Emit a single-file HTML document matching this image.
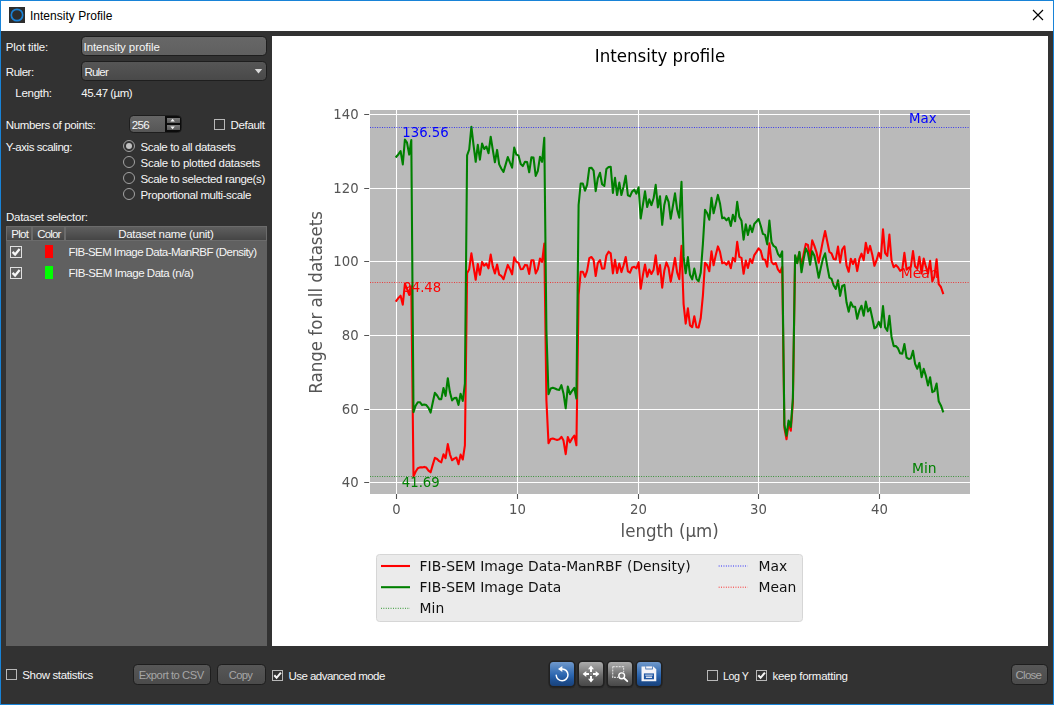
<!DOCTYPE html>
<html lang="en">
<head>
<meta charset="utf-8">
<title>Intensity Profile</title>
<style>
html,body{margin:0;padding:0;}
body{width:1054px;height:705px;overflow:hidden;background:#323232;position:relative;font-family:"Liberation Sans",sans-serif;}
#win{position:absolute;left:0;top:0;width:1052px;height:703px;border:1px solid #1883d7;background:#323232;}
#titlebar{position:absolute;left:1px;top:1px;width:1052px;height:30px;background:#fff;}
#appicon{position:absolute;left:9px;top:7px;width:16px;height:16px;}
#wtitle{position:absolute;left:29.90px;top:9px;font:12px/14px "Liberation Sans",sans-serif;color:#000;white-space:nowrap;letter-spacing:0.027px;}
.t{position:absolute;font:11.5px/14px "Liberation Sans",sans-serif;color:#f6f6f6;white-space:nowrap;}
.t.dis{color:#a6a6a6;}
.field{position:absolute;box-sizing:border-box;border:1px solid #1e1e1e;border-radius:4.5px;}
.cb{position:absolute;box-sizing:border-box;width:11px;height:11px;border:1px solid #b8b8b8;background:#323232;}
.cb svg{position:absolute;left:0;top:0;}
.rb{position:absolute;box-sizing:border-box;width:12px;height:12px;border:1.2px solid #a2a2a2;border-radius:50%;background:#323232;}
.rb.on::after{content:"";position:absolute;left:1.6px;top:1.6px;width:6.4px;height:6.4px;border-radius:50%;background:#c2c2c2;}
.btn{position:absolute;box-sizing:border-box;border:1px solid #1e1e1e;border-radius:4.5px;background:linear-gradient(#575757,#4b4b4b);}
.tb{position:absolute;width:24px;height:24px;top:662px;margin-left:1px;border-radius:3.4px;box-shadow:0 0 0 1.5px #212121,0 1.1px 0 1.5px #2a2a2a;}
.tb.blue{background:linear-gradient(#7099cc 0%,#4a7dbc 30%,#2c66b0 55%,#1e4f90 80%,#19427c 100%);}
.tb.gray{background:linear-gradient(#acacac 0%,#8c8c8c 30%,#6c6c6c 55%,#555 80%,#484848 100%);}
.tb svg{position:absolute;left:0;top:0;}
#table{position:absolute;left:6px;top:226px;width:261px;height:420px;background:#606060;}
#thead{position:absolute;left:0;top:0;width:261px;height:14.6px;background:#6b6b6b;}
.hs{position:absolute;top:1px;height:12.6px;background:linear-gradient(#5e5e5e 0%,#525252 50%,#454545 100%);}
#plot{position:absolute;left:272px;top:36px;width:776px;height:610px;background:#fff;}
#plotsvg{will-change:transform;}
</style>
</head>
<body>
<div id="win"></div>
<div id="titlebar"></div>
<svg id="appicon" viewBox="0 0 16 16"><rect width="16" height="16" fill="#2d2d2d"/><circle cx="8" cy="8" r="5.7" fill="none" stroke="#1a82d6" stroke-width="1.7"/></svg>
<div id="wtitle">Intensity Profile</div>
<svg style="position:absolute;left:1032px;top:9px" width="12" height="12" viewBox="0 0 12 12"><path d="M1 1L11 11M11 1L1 11" stroke="#000" stroke-width="1.15" fill="none"/></svg>

<!-- left panel -->
<div class="t" style="left:5.80px;top:40.02px;letter-spacing:-0.161px">Plot title:</div>
<div class="field" style="left:81px;top:36px;width:185.6px;height:19.6px;background:linear-gradient(#676767,#606060)"></div>
<div class="t" style="left:83.50px;top:40.02px;letter-spacing:-0.066px">Intensity profile</div>
<div class="t" style="left:5.80px;top:65.02px;letter-spacing:-0.456px">Ruler:</div>
<div class="field" style="left:81px;top:61px;width:185.6px;height:19.7px;background:linear-gradient(#565656,#494949)"></div>
<div class="t" style="left:84.50px;top:65.02px;letter-spacing:-0.813px">Ruler</div>
<svg style="position:absolute;left:254px;top:68px" width="10" height="7" viewBox="0 0 10 7"><path d="M0.8 1H8.2L4.5 5.5Z" fill="#dadada"/></svg>
<div class="t" style="left:15.30px;top:85.62px;letter-spacing:-0.279px">Length:</div>
<div class="t" style="left:81.30px;top:85.62px;letter-spacing:-0.501px">45.47 (µm)</div>

<div class="t" style="left:5.80px;top:118.02px;letter-spacing:-0.384px">Numbers of points:</div>
<div class="field" style="left:128.9px;top:114.5px;width:53px;height:18.7px;background:linear-gradient(#666,#565656)"></div>
<div class="t" style="left:131.80px;top:118.02px;letter-spacing:-0.696px">256</div>
<div style="position:absolute;left:165px;top:116px;width:16px;height:16px;background:#0c0c0c;border-radius:0 3px 3px 0"></div>
<div style="position:absolute;left:166.5px;top:117.5px;width:13px;height:5.2px;background:linear-gradient(#7a7a7a,#5a5a5a)"></div>
<div style="position:absolute;left:166.5px;top:125.3px;width:13px;height:5.2px;background:linear-gradient(#7a7a7a,#5a5a5a)"></div>
<svg style="position:absolute;left:166px;top:117px" width="14" height="14" viewBox="0 0 14 14"><path d="M4.4 4.5L6.6 1.7L8.8 4.5Z M4.4 9.5L6.6 12.3L8.8 9.5Z" fill="#f4f4f4"/></svg>
<div class="cb" style="left:214px;top:119px"></div>
<div class="t" style="left:230.50px;top:118.02px;letter-spacing:-0.340px">Default</div>

<div class="t" style="left:5.80px;top:139.52px;letter-spacing:-0.456px">Y-axis scaling:</div>
<div class="rb on" style="left:123px;top:140px"></div>
<div class="t" style="left:140.50px;top:139.72px;letter-spacing:-0.379px">Scale to all datasets</div>
<div class="rb" style="left:123px;top:156px"></div>
<div class="t" style="left:140.50px;top:155.72px;letter-spacing:-0.258px">Scale to plotted datasets</div>
<div class="rb" style="left:123px;top:172px"></div>
<div class="t" style="left:140.50px;top:171.72px;letter-spacing:-0.351px">Scale to selected range(s)</div>
<div class="rb" style="left:123px;top:188px"></div>
<div class="t" style="left:140.50px;top:187.72px;letter-spacing:-0.407px">Proportional multi-scale</div>

<div class="t" style="left:6.00px;top:210.22px;letter-spacing:-0.275px">Dataset selector:</div>
<div id="table">
  <div id="thead">
    <div class="hs" style="left:1px;width:23.6px"></div>
    <div class="hs" style="left:26.6px;width:31.6px"></div>
    <div class="hs" style="left:60.4px;width:199.6px"></div>
  </div>
  <div class="cb" style="left:4px;top:20px;width:12px;height:12px;background:#606060;border-color:#e0e0e0"><svg width="10" height="10" viewBox="0 0 10 10"><path d="M1.6 4.9L4.1 7.6L8.6 2.1" stroke="#f6f6f6" stroke-width="2.3" fill="none"/></svg></div>
  <div style="position:absolute;left:39px;top:19px;width:8px;height:13px;background:#ff0000"></div>
  <div class="cb" style="left:4px;top:41px;width:12px;height:12px;background:#606060;border-color:#e0e0e0"><svg width="10" height="10" viewBox="0 0 10 10"><path d="M1.6 4.9L4.1 7.6L8.6 2.1" stroke="#f6f6f6" stroke-width="2.3" fill="none"/></svg></div>
  <div style="position:absolute;left:39px;top:40px;width:8px;height:13px;background:#00ff00"></div>
</div>
<div class="t" style="left:11.20px;top:227.32px;letter-spacing:-0.674px">Plot</div>
<div class="t" style="left:37.20px;top:227.32px;letter-spacing:-0.813px">Color</div>
<div class="t" style="left:118.20px;top:227.32px;letter-spacing:-0.303px">Dataset name (unit)</div>
<div class="t" style="left:68.50px;top:245.32px;letter-spacing:-0.563px">FIB-SEM Image Data-ManRBF (Density)</div>
<div class="t" style="left:68.50px;top:266.32px;letter-spacing:-0.474px">FIB-SEM Image Data (n/a)</div>

<!-- bottom bar -->
<div class="cb" style="left:6px;top:669px"></div>
<div class="t" style="left:22.30px;top:668.02px;letter-spacing:-0.357px">Show statistics</div>
<div class="btn" style="left:133px;top:664px;width:78px;height:21px"></div>
<div class="t dis" style="left:138.70px;top:668.42px;font-size:11.2px;letter-spacing:-0.452px">Export to CSV</div>
<div class="btn" style="left:217px;top:664px;width:49px;height:21px"></div>
<div class="t dis" style="left:228.70px;top:668.42px;font-size:11.2px;letter-spacing:-0.641px">Copy</div>
<div class="cb" style="left:272px;top:670px"><svg width="9" height="9" viewBox="0 0 9 9"><path d="M1.3 4.3L3.6 6.8L7.9 1.6" stroke="#f6f6f6" stroke-width="2.0" fill="none"/></svg></div>
<div class="t" style="left:288.50px;top:669.02px;letter-spacing:-0.543px">Use advanced mode</div>

<div class="tb blue" style="left:549px"><svg width="24" height="24" viewBox="0 0 24 24"><path d="M12.2 6.9A5.9 5.9 0 1 1 6.2 13.2" fill="none" stroke="#fff" stroke-width="1.5" stroke-linecap="round"/><path d="M8.0 7.0L12.3 4.0V10.0Z" fill="#fff"/></svg></div>
<div class="tb gray" style="left:578px"><svg width="24" height="24" viewBox="0 0 24 24"><g fill="#fff"><path d="M12 3.6L15 7.3H13V10H11V7.3H9Z"/><path d="M12 20.4L15 16.7H13V14H11V16.7H9Z"/><path d="M3.6 12L7.3 9V11H10V13H7.3V15Z"/><path d="M20.4 12L16.7 9V11H14V13H16.7V15Z"/></g><rect x="11" y="11" width="2" height="2" fill="#8a8a8a"/></svg></div>
<div class="tb gray" style="left:607px"><svg width="24" height="24" viewBox="0 0 24 24"><path d="M4.7 4.6H15.6V10.2M4.7 4.6V15.4H10.2" fill="none" stroke="#dadada" stroke-width="1.15" stroke-dasharray="2 1"/><circle cx="13.7" cy="13.8" r="2.9" fill="#7a7a7a" stroke="#fff" stroke-width="1.4"/><path d="M15.9 16.0L19.3 19.2" stroke="#fff" stroke-width="1.8" stroke-linecap="round"/></svg></div>
<div class="tb blue" style="left:636px"><svg width="24" height="24" viewBox="0 0 24 24"><path d="M4.5 4.4H16.3L19.3 7.3V19.3H4.5Z" fill="#f4f4f8"/><rect x="8.4" y="4.4" width="7.4" height="3.0" fill="#2a5ea8"/><rect x="9.1" y="4.4" width="6.0" height="2.2" fill="#f4f4f8"/><rect x="6.9" y="11.4" width="10.1" height="5.9" fill="#2258a4"/><rect x="8.2" y="12.6" width="7.5" height="1.1" fill="#c8d6ea"/><rect x="8.9" y="14.6" width="6.1" height="1.3" fill="#f4f4f8"/></svg></div>

<div class="cb" style="left:707px;top:670px"></div>
<div class="t" style="left:723.10px;top:669.29px;font-size:10.7px;letter-spacing:-0.500px">Log Y</div>
<div class="cb" style="left:756px;top:670px"><svg width="9" height="9" viewBox="0 0 9 9"><path d="M1.3 4.3L3.6 6.8L7.9 1.6" stroke="#f6f6f6" stroke-width="2.0" fill="none"/></svg></div>
<div class="t" style="left:772.40px;top:669.02px;letter-spacing:-0.262px">keep formatting</div>
<div class="btn" style="left:1011px;top:664px;width:37px;height:21px"></div>
<div class="t dis" style="left:1015.60px;top:668.32px;letter-spacing:-0.776px">Close</div>

<div id="plot">
<svg id="plotsvg" width="776" height="610" viewBox="272 36 776 610" style="position:absolute;left:0;top:0" font-family="'DejaVu Sans',sans-serif">
<rect x="370.0" y="110.0" width="600.0" height="384.0" fill="#bababa"/>
<path d="M396.5 110.0V494.0M517.5 110.0V494.0M638.5 110.0V494.0M758.5 110.0V494.0M879.5 110.0V494.0M370.0 114.5H970.0M370.0 188.5H970.0M370.0 261.5H970.0M370.0 335.5H970.0M370.0 409.5H970.0M370.0 482.5H970.0" stroke="#fff" stroke-width="1.05" fill="none"/>
<path d="M396.5 494.0v4.9M517.5 494.0v4.9M638.5 494.0v4.9M758.5 494.0v4.9M879.5 494.0v4.9M369.1 114.5h-4.9M369.1 188.5h-4.9M369.1 261.5h-4.9M369.1 335.5h-4.9M369.1 409.5h-4.9M369.1 482.5h-4.9" stroke="#555555" stroke-width="1.1" fill="none"/>
<g fill="#555555" font-size="13.89px">
<text x="396.5" y="513.8" text-anchor="middle" textLength="8.4" lengthAdjust="spacingAndGlyphs">0</text>
<text x="517.5" y="513.8" text-anchor="middle" textLength="16.9" lengthAdjust="spacingAndGlyphs">10</text>
<text x="638.5" y="513.8" text-anchor="middle" textLength="16.9" lengthAdjust="spacingAndGlyphs">20</text>
<text x="758.5" y="513.8" text-anchor="middle" textLength="16.9" lengthAdjust="spacingAndGlyphs">30</text>
<text x="879.5" y="513.8" text-anchor="middle" textLength="16.9" lengthAdjust="spacingAndGlyphs">40</text>
<text x="358.6" y="119.2" text-anchor="end" textLength="25.3" lengthAdjust="spacingAndGlyphs">140</text>
<text x="358.6" y="193.2" text-anchor="end" textLength="25.3" lengthAdjust="spacingAndGlyphs">120</text>
<text x="358.6" y="266.2" text-anchor="end" textLength="25.3" lengthAdjust="spacingAndGlyphs">100</text>
<text x="358.6" y="340.2" text-anchor="end" textLength="16.9" lengthAdjust="spacingAndGlyphs">80</text>
<text x="358.6" y="414.2" text-anchor="end" textLength="16.9" lengthAdjust="spacingAndGlyphs">60</text>
<text x="358.6" y="487.2" text-anchor="end" textLength="16.9" lengthAdjust="spacingAndGlyphs">40</text>
</g>
<text x="669.7" y="537" text-anchor="middle" font-size="17.9px" textLength="98.3" lengthAdjust="spacingAndGlyphs" fill="#555555">length (µm)</text>
<text transform="translate(322.0 302.4) rotate(-90)" text-anchor="middle" font-size="17.6px" textLength="182.8" lengthAdjust="spacingAndGlyphs" fill="#555555">Range for all datasets</text>
<text x="660" y="61.6" text-anchor="middle" font-size="17.9px" textLength="130.5" lengthAdjust="spacingAndGlyphs" fill="#000">Intensity profile</text>
<polyline points="396.3,300.9 398.5,297.9 400.6,295.7 402.8,304.7 404.9,283.8 407.0,288.9 409.2,294.9 411.3,286.3 413.5,476.5 415.6,471.8 417.8,468.3 419.9,467.4 422.1,467.4 424.2,466.9 426.3,467.6 428.5,470.6 430.6,472.3 432.8,464.6 434.9,457.8 437.1,459.0 439.2,461.2 441.3,462.3 443.5,454.3 445.6,458.2 447.8,444.1 449.9,454.3 452.1,460.3 454.2,458.6 456.4,457.5 458.5,464.2 460.6,454.6 462.8,459.5 464.9,445.4 467.1,273.4 469.2,269.2 471.4,253.4 473.5,266.6 475.7,279.8 477.8,264.0 479.9,274.7 482.1,261.9 484.2,265.7 486.4,263.6 488.5,268.3 490.7,254.6 492.8,266.6 494.9,273.4 497.1,264.5 499.2,274.7 501.4,276.0 503.5,279.2 505.7,271.7 507.8,264.9 510.0,269.2 512.1,274.3 514.2,257.4 516.4,261.9 518.5,262.8 520.7,269.2 522.8,269.0 525.0,264.9 527.1,265.3 529.2,273.9 531.4,260.2 533.5,260.2 535.7,273.4 537.8,269.2 540.0,258.5 542.1,261.9 544.3,243.5 546.4,400.0 548.5,443.2 550.7,439.1 552.8,438.5 555.0,439.3 557.1,439.9 559.3,439.3 561.4,436.8 563.5,440.6 565.7,454.1 567.8,437.0 570.0,442.3 572.1,438.5 574.3,435.5 576.4,445.3 578.6,295.0 580.7,271.7 582.8,271.7 585.0,276.8 587.1,270.9 589.3,258.1 591.4,257.0 593.6,259.8 595.7,276.0 597.8,263.2 600.0,260.2 602.1,268.7 604.3,268.5 606.4,255.5 608.6,251.7 610.7,253.4 612.9,273.4 615.0,259.8 617.1,273.0 619.3,263.6 621.4,272.1 623.6,265.3 625.7,257.0 627.9,271.3 630.0,272.6 632.1,267.5 634.3,266.8 636.4,268.3 638.6,262.3 640.7,288.8 642.9,275.1 645.0,264.5 647.2,276.8 649.3,269.6 651.4,274.0 653.6,269.7 655.7,255.4 657.9,274.5 660.0,265.1 662.2,287.7 664.3,270.8 666.4,262.4 668.6,267.8 670.7,281.8 672.9,269.8 675.0,257.9 677.2,272.8 679.3,279.3 681.5,245.9 683.6,304.1 685.7,323.7 687.9,308.4 690.0,325.4 692.2,327.2 694.3,316.2 696.5,327.2 698.6,327.6 700.7,318.3 702.9,295.6 705.0,262.8 707.2,265.3 709.3,271.3 711.5,251.4 713.6,265.3 715.8,254.9 717.9,246.4 720.0,251.9 722.2,263.3 724.3,262.4 726.5,264.8 728.6,261.4 730.8,268.3 732.9,257.9 735.1,261.4 737.2,241.9 739.3,256.9 741.5,257.9 743.6,273.8 745.8,260.6 747.9,268.0 750.1,259.1 752.2,263.0 754.3,255.1 756.5,251.9 758.6,248.4 760.8,250.9 762.9,259.3 765.1,259.8 767.2,266.8 769.4,243.4 771.5,261.8 773.6,264.3 775.8,263.0 777.9,269.3 780.1,272.3 782.2,267.0 784.4,428.0 786.5,439.3 788.6,423.5 790.8,430.8 792.9,402.0 795.1,256.5 797.2,263.0 799.4,252.3 801.5,265.8 803.7,253.8 805.8,243.9 807.9,244.9 810.1,257.8 812.2,240.4 814.4,245.9 816.5,252.3 818.7,262.8 820.8,251.9 822.9,240.9 825.1,231.0 827.2,241.3 829.4,252.0 831.5,253.4 833.7,259.0 835.8,259.4 838.0,246.6 840.1,262.6 842.2,249.5 844.4,246.3 846.5,265.4 848.7,271.8 850.8,258.7 853.0,264.0 855.1,259.0 857.2,271.1 859.4,259.0 861.5,253.7 863.7,260.1 865.8,242.7 868.0,253.0 870.1,245.9 872.3,254.8 874.4,265.8 876.5,260.5 878.7,252.7 880.8,258.5 883.0,229.4 885.1,253.0 887.3,255.9 889.4,234.5 891.5,260.2 893.7,267.3 895.8,265.1 898.0,267.3 900.1,270.8 902.3,269.4 904.4,252.9 906.6,269.6 908.7,267.8 910.8,267.1 913.0,251.1 915.1,266.4 917.3,268.9 919.4,256.8 921.6,273.5 923.7,258.5 925.8,266.4 928.0,273.5 930.1,260.7 932.3,281.3 934.4,276.3 936.6,259.3 938.7,284.2 940.9,287.0 943.0,293.1" fill="none" stroke="#ff0000" stroke-width="2.08" stroke-linejoin="round" stroke-linecap="square"/>
<polyline points="396.3,156.7 398.5,154.2 400.6,151.2 402.8,164.4 404.9,139.5 407.0,142.6 409.2,154.6 411.3,140.1 413.5,412.1 415.6,405.7 417.8,402.3 419.9,402.2 422.1,405.1 424.2,404.5 426.3,405.1 428.5,407.9 430.6,412.6 432.8,402.3 434.9,392.8 437.1,395.5 439.2,399.1 441.3,399.1 443.5,388.0 445.6,395.9 447.8,378.2 449.9,392.1 452.1,400.4 454.2,398.1 456.4,397.9 458.5,404.9 460.6,393.8 462.8,401.0 464.9,383.5 467.1,155.4 469.2,149.5 471.4,126.7 473.5,144.8 475.7,161.8 477.8,144.8 479.9,159.7 482.1,143.5 484.2,149.0 486.4,146.5 488.5,153.3 490.7,136.7 492.8,149.9 494.9,162.3 497.1,149.9 499.2,164.4 501.4,168.7 503.5,171.9 505.7,164.4 507.8,157.1 510.0,162.7 512.1,167.7 514.2,147.5 516.4,154.6 518.5,155.4 520.7,164.0 522.8,166.1 525.0,161.8 527.1,162.0 529.2,172.3 531.4,157.4 533.5,157.6 535.7,175.9 537.8,171.2 540.0,156.7 542.1,161.8 544.3,137.9 546.4,330.0 548.5,394.2 550.7,388.5 552.8,387.8 555.0,388.5 557.1,389.5 559.3,389.9 561.4,385.2 563.5,393.4 565.7,408.3 567.8,386.5 570.0,394.2 572.1,390.8 574.3,387.8 576.4,398.5 578.6,205.0 580.7,183.5 582.8,183.5 585.0,190.7 587.1,184.8 589.3,168.1 591.4,167.7 593.6,170.7 595.7,191.2 597.8,178.4 600.0,172.8 602.1,184.3 604.3,186.0 606.4,169.0 608.6,167.0 610.7,166.7 612.9,192.9 615.0,177.9 617.1,195.0 619.3,182.6 621.4,195.0 623.6,186.5 625.7,175.8 627.9,195.4 630.0,196.3 632.1,191.6 634.3,189.7 636.4,193.7 638.6,187.3 640.7,218.5 642.9,204.8 645.0,191.4 647.2,207.0 649.3,199.3 651.4,205.1 653.6,198.3 655.7,184.9 657.9,207.4 660.0,196.2 662.2,224.8 664.3,204.9 666.4,196.1 668.6,201.9 670.7,218.8 672.9,205.9 675.0,193.4 677.2,209.8 679.3,217.8 681.5,181.8 683.6,256.9 685.7,273.3 687.9,257.1 690.0,274.8 692.2,279.3 694.3,268.6 696.5,278.8 698.6,281.3 700.7,272.8 702.9,243.9 705.0,209.8 707.2,213.3 709.3,219.8 711.5,197.9 713.6,213.3 715.8,203.9 717.9,194.9 720.0,203.4 722.2,218.3 724.3,217.6 726.5,220.3 728.6,217.8 730.8,226.0 732.9,214.8 735.1,221.3 737.2,201.9 739.3,216.8 741.5,220.8 743.6,239.7 745.8,224.4 747.9,235.0 750.1,225.6 752.2,232.1 754.3,223.9 756.5,221.5 758.6,219.0 760.8,226.0 762.9,233.9 765.1,234.9 767.2,244.4 769.4,220.5 771.5,241.9 773.6,245.9 775.8,247.4 777.9,253.8 780.1,256.8 782.2,251.4 784.4,425.0 786.5,435.8 788.6,420.5 790.8,426.9 792.9,398.0 795.1,255.3 797.2,263.3 799.4,251.9 801.5,272.3 803.7,258.8 805.8,248.4 807.9,252.8 810.1,264.8 812.2,251.4 814.4,255.8 816.5,265.8 818.7,277.7 820.8,267.9 822.9,258.9 825.1,253.3 827.2,265.9 829.4,277.6 831.5,278.8 833.7,285.5 835.8,288.9 838.0,280.3 840.1,295.9 842.2,285.9 844.4,284.9 846.5,302.3 848.7,311.8 850.8,302.3 853.0,306.8 855.1,306.8 857.2,318.8 859.4,310.3 861.5,305.8 863.7,315.8 865.8,301.6 868.0,311.6 870.1,308.0 872.3,318.0 874.4,328.3 876.5,326.8 878.7,321.8 880.8,327.3 883.0,306.0 885.1,327.3 887.3,330.8 889.4,315.8 891.5,336.7 893.7,346.1 895.8,346.1 898.0,348.3 900.1,353.3 902.3,353.8 904.4,344.0 906.6,357.6 908.7,358.9 910.8,358.5 913.0,350.7 915.1,363.9 917.3,368.7 919.4,362.9 921.6,377.2 923.7,368.7 925.8,375.6 928.0,385.5 930.1,377.2 932.3,392.1 934.4,391.1 936.6,383.6 938.7,401.2 940.9,405.4 943.0,411.3" fill="none" stroke="#008000" stroke-width="2.08" stroke-linejoin="round" stroke-linecap="square"/>
<path d="M370.0 127.5H970.0" stroke="#0000ff" stroke-width="0.85" stroke-dasharray="0.9 1.5" stroke-opacity="0.9" fill="none"/>
<path d="M370.0 282.5H970.0" stroke="#ff0000" stroke-width="0.85" stroke-dasharray="0.9 1.5" stroke-opacity="0.9" fill="none"/>
<path d="M370.0 476.5H970.0" stroke="#008000" stroke-width="0.85" stroke-dasharray="0.9 1.5" stroke-opacity="0.9" fill="none"/>
<g font-size="13.89px">
<text x="402.3" y="136.9" fill="#0000ff" textLength="46.4" lengthAdjust="spacingAndGlyphs">136.56</text>
<text x="936.6" y="123.2" fill="#0000ff" text-anchor="end" textLength="27.6" lengthAdjust="spacingAndGlyphs">Max</text>
<text x="403.3" y="291.9" fill="#ff0000" textLength="37.9" lengthAdjust="spacingAndGlyphs">94.48</text>
<text x="938.6" y="278.0" fill="#ff0000" text-anchor="end">Mean</text>
<text x="401.8" y="486.7" fill="#008000" textLength="37.9" lengthAdjust="spacingAndGlyphs">41.69</text>
<text x="936.6" y="472.5" fill="#008000" text-anchor="end">Min</text>
</g>
<rect x="376.5" y="554.5" width="426" height="67" rx="3" ry="3" fill="#ebebeb" stroke="#d6d6d6" stroke-width="1"/>
<path d="M381 566h29" stroke="#ff0000" stroke-width="2.08"/>
<path d="M381 587.2h29" stroke="#008000" stroke-width="2.08"/>
<path d="M381 608.3h29" stroke="#008000" stroke-width="0.9" stroke-dasharray="0.9 1.5"/>
<path d="M718.7 566h29" stroke="#0000ff" stroke-width="0.9" stroke-dasharray="0.9 1.5"/>
<path d="M718.7 587.2h29" stroke="#ff0000" stroke-width="0.9" stroke-dasharray="0.9 1.5"/>
<g font-size="13.89px" fill="#111">
<text x="419.6" y="571.2">FIB-SEM Image Data-ManRBF (Density)</text>
<text x="419.6" y="592.2">FIB-SEM Image Data</text>
<text x="419.6" y="613.2">Min</text>
<text x="758.6" y="571.2">Max</text>
<text x="758.6" y="592.2">Mean</text>
</g>
</svg>
</div>
</body>
</html>
